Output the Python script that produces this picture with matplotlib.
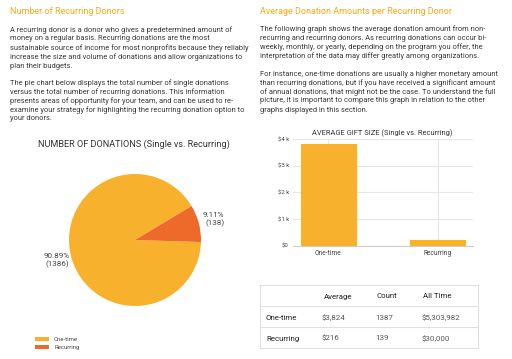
import matplotlib

matplotlib.use("Agg")

import matplotlib.pyplot as plt
from matplotlib.ticker import FuncFormatter

plt.rcParams["font.family"] = ["Roboto", "DejaVu Sans"]

W, H = 512, 359

ORANGE = "#F8B12C"
RED_ORANGE = "#EE6A2B"
HEAD = "#FAA816"
TEXT = "#383838"
GRID = "#E6E6E6"

left_heading = "Number of Recurring Donors"
left_para1 = [
    "A recurring donor is a donor who gives a predetermined amount of",
    "money on a regular basis. Recurring donations are the most",
    "sustainable source of income for most nonprofits because they reliably",
    "increase the size and volume of donations and allow organizations to",
    "plan their budgets.",
]
left_para2 = [
    "The pie chart below displays the total number of single donations",
    "versus the total number of recurring donations. This information",
    "presents areas of opportunity for your team, and can be used to re-",
    "examine your strategy for highlighting the recurring donation option to",
    "your donors.",
]
right_heading = "Average Donation Amounts per Recurring Donor"
right_para1 = [
    "The following graph shows the average donation amount from non-",
    "recurring and recurring donors. As recurring donations can occur bi-",
    "weekly, monthly, or yearly, depending on the program you offer, the",
    "interpretation of the data may differ greatly among organizations.",
]
right_para2 = [
    "For instance, one-time donations are usually a higher monetary amount",
    "than recurring donations, but if you have received a significant amount",
    "of annual donations, that might not be the case. To understand the full",
    "picture, it is important to compare this graph in relation to the other",
    "graphs displayed in this section.",
]

categories = ["One-time", "Recurring"]
pie_pct = [90.89, 9.11]
pie_counts = [1386, 138]
avg_gift = [3824, 216]

table_header = ["", "Average", "Count", "All Time"]
table_average = ["$3,824", "$216"]
table_count = ["1387", "139"]
table_all_time = ["$5,303,982", "$30,000"]


def fx(x):
    return x / W


def fy(y):
    return 1 - y / H


def px_axes(fig, x0, y0, x1, y1):
    return fig.add_axes([fx(x0), fy(y1), (x1 - x0) / W, (y1 - y0) / H])


fig = plt.figure(figsize=(W / 100, H / 100), dpi=100)

# headings and body text
fig.text(fx(10), fy(12), left_heading, color=HEAD, fontsize=6.45, va="center")
fig.text(fx(260), fy(12), right_heading, color=HEAD, fontsize=6.45, va="center")
for i, line in enumerate(left_para1):
    fig.text(fx(10), fy(30 + 9 * i), line, color=TEXT, fontsize=5.4, va="center")
for i, line in enumerate(left_para2):
    fig.text(fx(10), fy(83 + 9 * i), line, color=TEXT, fontsize=5.4, va="center")
for i, line in enumerate(right_para1):
    fig.text(fx(260), fy(29.5 + 9 * i), line, color=TEXT, fontsize=5.4, va="center")
for i, line in enumerate(right_para2):
    fig.text(fx(260), fy(74 + 9 * i), line, color=TEXT, fontsize=5.4, va="center")

# pie chart
fig.text(fx(133.5), fy(144), "NUMBER OF DONATIONS (Single vs. Recurring)",
         color="#333333", fontsize=6.6, ha="center", va="center")
ax_pie = px_axes(fig, 69, 174, 201, 306)
pie_labels = [f"{p:.2f}%\n({n})" for p, n in zip(pie_pct, pie_counts)]
wedges, _ = ax_pie.pie(
    pie_pct,
    labels=pie_labels,
    colors=[ORANGE, RED_ORANGE],
    startangle=31,
    counterclock=True,
    labeldistance=1.23,
    textprops=dict(ha="center", va="center", multialignment="right",
                   fontsize=5.8, color="#444444"),
)
ax_pie.set_xlim(-1, 1)
ax_pie.set_ylim(-1, 1)
ax_pie.set_aspect("equal")
fig.legend(
    wedges, categories,
    loc="upper left", bbox_to_anchor=(fx(32), fy(334)),
    frameon=False, fontsize=4.3, handlelength=2.4, handleheight=0.6,
    labelspacing=0.5, handletextpad=0.8, borderpad=0, labelcolor="#444444",
)

# bar chart
fig.text(fx(382.5), fy(133), "AVERAGE GIFT SIZE (Single vs. Recurring)",
         color="#333333", fontsize=5.45, ha="center", va="center")
ax_bar = px_axes(fig, 293, 139, 473, 245.7)
ax_bar.bar(range(len(categories)), avg_gift, width=0.5, color=ORANGE,
           edgecolor="#FFB414", linewidth=0.8, zorder=3)
ax_bar.set_xlim(-0.325, 1.325)
ax_bar.set_ylim(0, 4000)
ax_bar.set_yticks([0, 1000, 2000, 3000, 4000])
ax_bar.yaxis.set_major_formatter(
    FuncFormatter(lambda v, _: "$0" if v == 0 else f"${v / 1000:.0f} k"))
ax_bar.set_xticks(range(len(categories)))
ax_bar.set_xticklabels(categories)
ax_bar.tick_params(length=0, labelcolor="#444444", pad=3)
ax_bar.tick_params(axis="x", labelsize=4.8)
ax_bar.tick_params(axis="y", labelsize=4.3)
ax_bar.grid(True, color=GRID, linewidth=0.8, zorder=0)
for side in ["top", "right", "left"]:
    ax_bar.spines[side].set_visible(False)
ax_bar.spines["bottom"].set_color("#CCCCCC")
ax_bar.spines["bottom"].set_zorder(4)

# table
ax_tab = px_axes(fig, 260, 285, 478, 348)
ax_tab.set_xlim(260, 478)
ax_tab.set_ylim(348, 285)
ax_tab.set_xticks([])
ax_tab.set_yticks([])
for s in ax_tab.spines.values():
    s.set_color("#E0E0E0")
    s.set_linewidth(0.8)
ax_tab.axhline(306, color="#E0E0E0", lw=0.8)
ax_tab.axhline(327, color="#E0E0E0", lw=0.8)
col_x = [266, 322, 375, 421.5]
for x, h in zip(col_x, table_header):
    ax_tab.text(x + 1.5, 296.5, h, fontsize=5.7, color="#222222", va="center")
for r, name in enumerate(categories):
    y = 317.5 + 21 * r
    ax_tab.text(col_x[0], y, name, fontsize=5.7, color="#222222", va="center")
    ax_tab.text(col_x[1], y, table_average[r], fontsize=5.7, color="#555555", va="center")
    ax_tab.text(col_x[2], y, table_count[r], fontsize=5.7, color="#555555", va="center")
    ax_tab.text(col_x[3], y, table_all_time[r], fontsize=5.7, color="#555555", va="center")

fig.savefig("out.png", dpi=100)
